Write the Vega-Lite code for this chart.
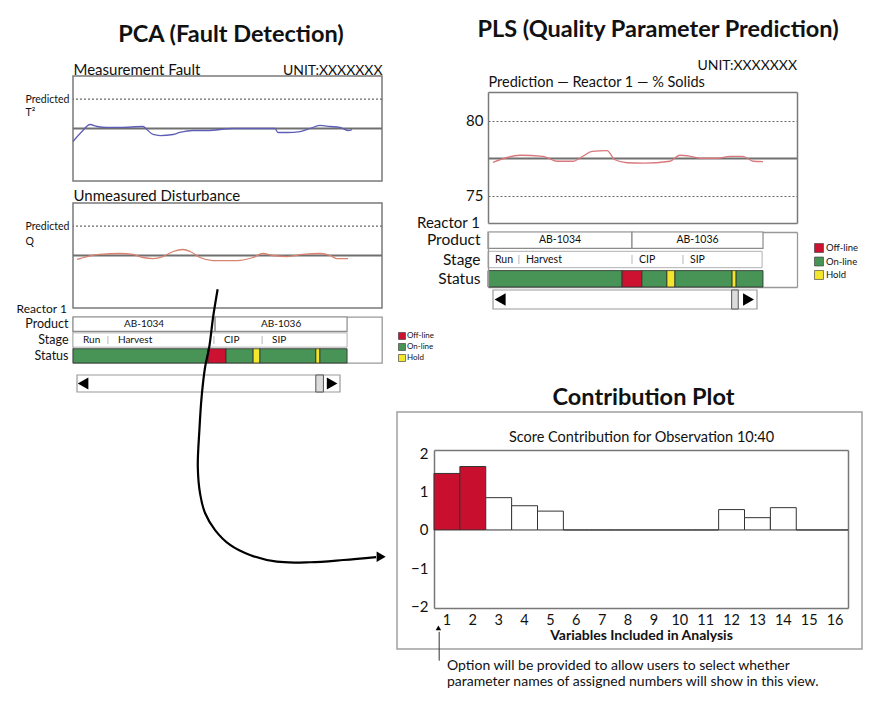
{
  "$schema": "https://vega.github.io/schema/vega-lite/v6.json",
  "background": "white",
  "padding": {"left": 15, "top": 18, "right": 7, "bottom": 10},
  "config": {
    "font": "Lato",
    "view": {"stroke": null},
    "axis": {"labelFont": "Lato", "titleFont": "Lato", "labelColor": "#111111", "titleColor": "#111111", "grid": false, "ticks": false, "domain": false, "labelLimit": 0},
    "title": {"font": "Lato", "color": "#111111", "fontWeight": "normal"},
    "legend": {"labelFont": "Lato", "labelColor": "#111111"},
    "text": {"font": "Lato", "color": "#111111"}
  },
  "spacing": 324,
  "bounds": "flush",
  "hconcat": [
    {
      "spacing": 0,
      "bounds": "flush",
      "resolve": {"scale": {"color": "independent"}, "legend": {"color": "independent"}},
      "vconcat": [
        {"width": 316, "height": 16, "data": {"values": []}, "mark": "point",
         "title": {"text": "PCA (Fault Detection)", "fontSize": 23.5, "fontWeight": "bold", "anchor": "middle", "frame": "group", "baseline": "alphabetic", "offset": -5.5}},

        {"width": 309, "height": 105,
         "view": {"stroke": "#7a7a7a", "strokeWidth": 1.5},
         "layer": [
           {"data": {"values": [{}]}, "mark": {"type": "rule", "color": "#6a6a6a", "strokeWidth": 1.2, "strokeDash": [2, 2]}, "encoding": {"y": {"datum": 7.8, "type": "quantitative"}}},
           {"data": {"values": [{}]}, "mark": {"type": "rule", "color": "#707070", "strokeWidth": 2}, "encoding": {"y": {"datum": 5, "type": "quantitative"}}},
           {"data": {"values": [
              {"t": 0, "v": 3.76}, {"t": 2.9, "v": 4.71}, {"t": 5.5, "v": 5.38}, {"t": 7.8, "v": 5.19}, {"t": 11, "v": 5.1}, {"t": 15.2, "v": 5.1}, {"t": 22.7, "v": 5.19}, {"t": 23.9, "v": 4.9}, {"t": 25.9, "v": 4.43}, {"t": 28.2, "v": 4.33}, {"t": 32.4, "v": 4.43}, {"t": 34.6, "v": 4.62}, {"t": 38.8, "v": 4.81}, {"t": 43.4, "v": 4.81}, {"t": 51.8, "v": 5.0}, {"t": 58.3, "v": 5.0}, {"t": 65.4, "v": 5.0}, {"t": 66.3, "v": 4.62}, {"t": 69.3, "v": 4.62}, {"t": 73.5, "v": 4.71}, {"t": 76.7, "v": 5.0}, {"t": 79.9, "v": 5.29}, {"t": 83.2, "v": 5.19}, {"t": 86.4, "v": 5.1}, {"t": 89, "v": 4.81}, {"t": 90.3, "v": 4.9}
            ]},
            "mark": {"type": "line", "color": "#5e5eb6", "strokeWidth": 1.3, "interpolate": "monotone"},
            "encoding": {
              "x": {"field": "t", "type": "quantitative", "scale": {"domain": [0, 100], "nice": false, "zero": false},
                    "axis": {"orient": "top", "values": [0, 100], "labelExpr": "datum.value == 0 ? 'Measurement Fault' : 'UNIT:XXXXXXX'",
                             "labelAlign": {"condition": {"test": "datum.value == 0", "value": "left"}, "value": "right"},
                             "labelFontSize": {"condition": {"test": "datum.value == 0", "value": 15}, "value": 14},
                             "labelBaseline": "alphabetic", "labelPadding": 2, "labelOverlap": false, "labelFlush": false, "labelBound": false,
                             "title": null, "ticks": false, "domain": false, "grid": false}},
              "y": {"field": "v", "type": "quantitative", "scale": {"domain": [0, 10], "nice": false, "zero": false},
                    "axis": {"values": [7.8, 6.5], "labelExpr": "datum.value > 7 ? 'Predicted' : '\u00a0T²'", "labelAlign": "left", "labelPadding": 48, "labelFontSize": 10.5, "labelBaseline": "middle", "title": null, "ticks": false, "domain": false, "grid": false}}
            }}
         ]},

        {"width": 1, "height": 22, "data": {"values": []}, "mark": "point"},

        {"width": 309, "height": 105,
         "view": {"stroke": "#7a7a7a", "strokeWidth": 1.5},
         "layer": [
           {"data": {"values": [{}]}, "mark": {"type": "rule", "color": "#6a6a6a", "strokeWidth": 1.2, "strokeDash": [2, 2]}, "encoding": {"y": {"datum": 7.8, "type": "quantitative"}}},
           {"data": {"values": [{}]}, "mark": {"type": "rule", "color": "#707070", "strokeWidth": 2}, "encoding": {"y": {"datum": 5, "type": "quantitative"}}},
           {"data": {"values": [
              {"t": 1.3, "v": 4.62}, {"t": 4.5, "v": 4.9}, {"t": 8.7, "v": 5.1}, {"t": 15.2, "v": 5.19}, {"t": 19.4, "v": 5.1}, {"t": 22.7, "v": 4.81}, {"t": 25.9, "v": 4.71}, {"t": 29.1, "v": 4.9}, {"t": 32.4, "v": 5.38}, {"t": 35.6, "v": 5.57}, {"t": 37.9, "v": 5.38}, {"t": 41.1, "v": 4.81}, {"t": 45.3, "v": 4.52}, {"t": 53.1, "v": 4.52}, {"t": 58.3, "v": 4.81}, {"t": 61.5, "v": 5.19}, {"t": 64.7, "v": 5.0}, {"t": 69.3, "v": 4.9}, {"t": 74.4, "v": 5.1}, {"t": 79.9, "v": 5.19}, {"t": 83.2, "v": 5.0}, {"t": 85.4, "v": 4.71}, {"t": 89.0, "v": 4.71}
            ]},
            "mark": {"type": "line", "color": "#d9826f", "strokeWidth": 1.3, "interpolate": "monotone"},
            "encoding": {
              "x": {"field": "t", "type": "quantitative", "scale": {"domain": [0, 100], "nice": false, "zero": false},
                    "axis": {"orient": "top", "values": [0], "labelExpr": "'Unmeasured Disturbance'", "labelAlign": "left", "labelFontSize": 15, "labelBaseline": "alphabetic", "labelPadding": 3, "labelOverlap": false, "labelFlush": false, "labelBound": false, "title": null, "ticks": false, "domain": false, "grid": false}},
              "y": {"field": "v", "type": "quantitative", "scale": {"domain": [0, 10], "nice": false, "zero": false},
                    "axis": {"values": [7.8, 6.3], "labelExpr": "datum.value > 7 ? 'Predicted' : '\u00a0Q'", "labelAlign": "left", "labelPadding": 48, "labelFontSize": 10.5, "labelBaseline": "middle", "title": null, "ticks": false, "domain": false, "grid": false}}
            }}
         ]},

        {"width": 1, "height": 9, "data": {"values": []}, "mark": "point"},

        {"width": 309, "height": 46,
         "view": {"stroke": "#999999", "strokeWidth": 1.3},
         "title": {"text": "Reactor 1", "anchor": "start", "align": "right", "dx": -6, "offset": -8.5, "fontSize": 12, "frame": "group", "baseline": "alphabetic"},
         "data": {"values": [
           {"row": "Product", "start": 0, "end": 46.0, "label": "AB-1034"},
           {"row": "Product", "start": 46.0, "end": 88.7, "label": "AB-1036"},
           {"row": "Stage", "start": 0, "end": 11.3, "label": "Run"},
           {"row": "Stage", "start": 11.3, "end": 45.6, "label": "Harvest"},
           {"row": "Stage", "start": 45.6, "end": 61.2, "label": "CIP"},
           {"row": "Stage", "start": 61.2, "end": 88.7, "label": "SIP"},
           {"row": "Status", "start": 0, "end": 43.7, "label": "On-line"},
           {"row": "Status", "start": 43.7, "end": 49.5, "label": "Off-line"},
           {"row": "Status", "start": 49.5, "end": 58.3, "label": "On-line"},
           {"row": "Status", "start": 58.3, "end": 60.5, "label": "Hold"},
           {"row": "Status", "start": 60.5, "end": 78.6, "label": "On-line"},
           {"row": "Status", "start": 78.6, "end": 79.9, "label": "Hold"},
           {"row": "Status", "start": 79.9, "end": 88.7, "label": "On-line"}
         ]},
         "encoding": {"y": {"field": "row", "type": "nominal", "scale": {"domain": ["Product", "Stage", "Status"], "paddingInner": 0.1, "paddingOuter": 0},
                            "axis": {"title": null, "labelFontSize": 12.5, "labelPadding": 5, "ticks": false, "domain": false}}},
         "layer": [
           {"transform": [{"filter": "datum.row == 'Product'"}],
            "mark": {"type": "rect", "fill": "white", "stroke": "#8c8c8c", "strokeWidth": 1.2},
            "encoding": {"x": {"field": "start", "type": "quantitative", "scale": {"domain": [0, 100], "nice": false, "zero": false}, "axis": null}, "x2": {"field": "end"}}},
           {"transform": [{"filter": "datum.row == 'Product'"}, {"calculate": "(datum.start + datum.end) / 2", "as": "mid"}],
            "mark": {"type": "text", "fontSize": 10},
            "encoding": {"x": {"field": "mid", "type": "quantitative"}, "text": {"field": "label"}}},
           {"transform": [{"filter": "datum.row == 'Stage'"}, {"aggregate": [{"op": "min", "field": "start", "as": "start"}, {"op": "max", "field": "end", "as": "end"}], "groupby": ["row"]}],
            "mark": {"type": "rect", "fill": "white", "stroke": "#b0b0b0", "strokeWidth": 1},
            "encoding": {"x": {"field": "start", "type": "quantitative"}, "x2": {"field": "end"}}},
           {"transform": [{"filter": "datum.row == 'Stage' && datum.start > 0"}],
            "mark": {"type": "tick", "color": "#999999", "thickness": 1, "size": 8},
            "encoding": {"x": {"field": "start", "type": "quantitative"}}},
           {"transform": [{"filter": "datum.row == 'Stage'"}],
            "mark": {"type": "text", "align": "left", "dx": 10, "fontSize": 10},
            "encoding": {"x": {"field": "start", "type": "quantitative"}, "text": {"field": "label"}}},
           {"transform": [{"filter": "datum.row == 'Status'"}],
            "mark": {"type": "rect", "stroke": "#2b2b2b", "strokeWidth": 0.8},
            "encoding": {"x": {"field": "start", "type": "quantitative"}, "x2": {"field": "end"},
                         "color": {"field": "label", "type": "nominal", "scale": {"domain": ["Off-line", "On-line", "Hold"], "range": ["#cc1230", "#489456", "#f4e62c"]},
                                   "legend": {"title": null, "orient": "right", "offset": 1, "padding": 15, "symbolType": "square", "symbolSize": 49, "symbolStrokeColor": "#333333", "symbolStrokeWidth": 0.6, "labelFontSize": 8, "labelOffset": 1, "rowPadding": 1}}}}
         ]},

        {"width": 1, "height": 12, "data": {"values": []}, "mark": "point"},

        {"width": 267, "height": 17,
         "data": {"values": [{"part": "track", "from": 0, "to": 100}, {"part": "thumb", "from": 90.8, "to": 93.7}]},
         "layer": [
           {"transform": [{"filter": "datum.part == 'track'"}],
            "mark": {"type": "rect", "fill": "white", "stroke": "#9a9a9a", "strokeWidth": 1.2},
            "encoding": {"x": {"field": "from", "type": "quantitative", "scale": {"domain": [0, 100], "range": [4, 267], "nice": false, "zero": false}, "axis": null}, "x2": {"field": "to"}}},
           {"transform": [{"filter": "datum.part == 'thumb'"}],
            "mark": {"type": "rect", "fill": "#dcdcdc", "stroke": "#555555", "strokeWidth": 1},
            "encoding": {"x": {"field": "from", "type": "quantitative"}, "x2": {"field": "to"}}},
           {"data": {"values": [{"pos": 2.3, "dir": "left"}, {"pos": 97.0, "dir": "right"}]},
            "mark": {"type": "point", "filled": true, "color": "black", "size": 150, "opacity": 1},
            "encoding": {"x": {"field": "pos", "type": "quantitative"},
                         "shape": {"field": "dir", "type": "nominal", "scale": {"domain": ["left", "right"], "range": ["triangle-left", "triangle-right"]}, "legend": null}}}
         ]},

        {"width": 320, "height": 173,
         "layer": [
           {"data": {"values": [
              {"i": 0, "ax": 45.2, "ay": -59.4}, {"i": 1, "ax": 43.8, "ay": -43.5}, {"i": 2, "ax": 42.6, "ay": -26.2}, {"i": 3, "ax": 41.3, "ay": -14.6}, {"i": 4, "ax": 40.2, "ay": 2.7}, {"i": 5, "ax": 39.5, "ay": 22.0}, {"i": 6, "ax": 39.0, "ay": 43.2}, {"i": 7, "ax": 39.7, "ay": 58.6}, {"i": 8, "ax": 41.3, "ay": 70.1}, {"i": 9, "ax": 44.4, "ay": 79.8}, {"i": 10, "ax": 49.1, "ay": 88.4}, {"i": 11, "ax": 55.3, "ay": 94.2}, {"i": 12, "ax": 63.7, "ay": 98.1}, {"i": 13, "ax": 74.1, "ay": 98.4}, {"i": 14, "ax": 84.5, "ay": 97.1}, {"i": 15, "ax": 94.7, "ay": 95.4}
            ]},
            "mark": {"type": "line", "color": "black", "strokeWidth": 2.2, "interpolate": "catmull-rom"},
            "encoding": {
              "x": {"field": "ax", "type": "quantitative", "scale": {"domain": [0, 100], "nice": false, "zero": false}, "axis": null},
              "y": {"field": "ay", "type": "quantitative", "scale": {"domain": [0, 100], "nice": false, "zero": false, "reverse": true}, "axis": null},
              "order": {"field": "i", "type": "quantitative"}
            }},
           {"data": {"values": [{"ax": 96.3, "ay": 95.2}]},
            "mark": {"type": "point", "shape": "triangle-right", "filled": true, "color": "black", "size": 110, "opacity": 1},
            "encoding": {"x": {"field": "ax", "type": "quantitative"}, "y": {"field": "ay", "type": "quantitative"}}}
         ]}
      ]
    },
    {
      "spacing": 0,
      "bounds": "flush",
      "resolve": {"scale": {"color": "independent"}, "legend": {"color": "independent"}},
      "vconcat": [
        {"width": 522, "height": 32, "data": {"values": []}, "mark": "point",
         "title": {"text": "PLS (Quality Parameter Prediction)", "fontSize": 23.5, "fontWeight": "bold", "anchor": "middle", "frame": "group", "baseline": "alphabetic", "offset": -0.5}},

        {"width": 400, "height": 131,
         "title": {"text": "UNIT:XXXXXXX", "anchor": "end", "frame": "group", "fontSize": 14, "baseline": "alphabetic", "offset": -10},
         "data": {"values": [
            {"t": 1.6, "v": 77.23}, {"t": 10.4, "v": 77.7}, {"t": 17.8, "v": 77.63}, {"t": 22.3, "v": 77.3}, {"t": 27.5, "v": 77.3}, {"t": 30.7, "v": 77.63}, {"t": 33.7, "v": 77.96}, {"t": 38.5, "v": 78.0}, {"t": 41.1, "v": 77.4}, {"t": 45.0, "v": 77.2}, {"t": 50.2, "v": 77.17}, {"t": 58.9, "v": 77.3}, {"t": 62.1, "v": 77.7}, {"t": 65.4, "v": 77.63}, {"t": 68.6, "v": 77.5}, {"t": 74.1, "v": 77.5}, {"t": 78.3, "v": 77.63}, {"t": 82.5, "v": 77.63}, {"t": 85.8, "v": 77.3}, {"t": 89.0, "v": 77.27}
         ]},
         "layer": [
           {"mark": {"type": "line", "color": "#d9787c", "strokeWidth": 1.3, "interpolate": "monotone"},
            "encoding": {
              "x": {"field": "t", "type": "quantitative", "scale": {"domain": [0, 100], "range": [91, 400], "nice": false, "zero": false},
                    "axis": {"orient": "top", "values": [0], "labelExpr": "'Prediction — Reactor 1 — % Solids'", "labelAlign": "left", "labelFontSize": 14.5, "labelBaseline": "alphabetic", "labelPadding": 6, "labelOverlap": false, "labelFlush": false, "labelBound": false, "title": null, "ticks": false, "domain": true, "domainColor": "#7a7a7a", "domainWidth": 1.5, "grid": false}},
              "y": {"field": "v", "type": "quantitative", "scale": {"domain": [73.2, 81.9], "nice": false, "zero": false},
                    "axis": {"orient": "left", "offset": -91, "values": [75, 77.5, 80], "labelExpr": "datum.value == 77.5 ? '' : datum.label", "labelFontSize": 15, "labelPadding": 5, "title": null, "ticks": false, "domain": true, "domainColor": "#7a7a7a", "domainWidth": 1.5,
                             "grid": true,
                             "gridDash": {"condition": {"test": "datum.value == 77.5", "value": []}, "value": [2, 2]},
                             "gridColor": {"condition": {"test": "datum.value == 77.5", "value": "#707070"}, "value": "#6a6a6a"},
                             "gridWidth": {"condition": {"test": "datum.value == 77.5", "value": 2}, "value": 1.2}}}
            }},
           {"mark": {"type": "point", "opacity": 0},
            "encoding": {
              "x": {"field": "t", "type": "quantitative",
                    "axis": {"orient": "bottom", "labels": false, "ticks": false, "domain": true, "domainColor": "#7a7a7a", "domainWidth": 1.5, "grid": false, "title": null}},
              "y": {"field": "v", "type": "quantitative",
                    "axis": {"orient": "right", "labels": false, "ticks": false, "domain": true, "domainColor": "#7a7a7a", "domainWidth": 1.5, "grid": false, "title": null}}
            }}
         ],
         "resolve": {"axis": {"x": "independent", "y": "independent"}}
        },

        {"width": 1, "height": 9, "data": {"values": []}, "mark": "point"},

        {"width": 400, "height": 55,
         "title": {"text": "Reactor 1", "anchor": "start", "align": "right", "dx": 83, "offset": -12, "fontSize": 15, "frame": "group", "baseline": "alphabetic"},
         "data": {"values": [
           {"row": "Product", "start": 0, "end": 46.6, "label": "AB-1034"},
           {"row": "Product", "start": 46.6, "end": 89.0, "label": "AB-1036"},
           {"row": "Stage", "start": 0, "end": 10.0, "label": "Run"},
           {"row": "Stage", "start": 10.0, "end": 46.6, "label": "Harvest"},
           {"row": "Stage", "start": 46.6, "end": 63.1, "label": "CIP"},
           {"row": "Stage", "start": 63.1, "end": 88.7, "label": "SIP"},
           {"row": "Status", "start": 0, "end": 43.4, "label": "On-line"},
           {"row": "Status", "start": 43.4, "end": 49.8, "label": "Off-line"},
           {"row": "Status", "start": 49.8, "end": 57.9, "label": "On-line"},
           {"row": "Status", "start": 57.9, "end": 60.5, "label": "Hold"},
           {"row": "Status", "start": 60.5, "end": 79.0, "label": "On-line"},
           {"row": "Status", "start": 79.0, "end": 80.3, "label": "Hold"},
           {"row": "Status", "start": 80.3, "end": 89.0, "label": "On-line"}
         ]},
         "layer": [
           {"transform": [{"filter": "datum.row == 'Product'"}],
            "mark": {"type": "rect", "fill": "white", "stroke": "#8c8c8c", "strokeWidth": 1.2},
            "encoding": {"x": {"field": "start", "type": "quantitative", "scale": {"domain": [0, 100], "range": [91, 400], "nice": false, "zero": false},
                               "axis": {"orient": "bottom", "labels": false, "ticks": false, "domain": true, "domainColor": "#999999", "domainWidth": 1.3, "grid": false, "title": null}},
                         "x2": {"field": "end"},
                         "y": {"field": "row", "type": "nominal", "scale": {"domain": ["Product", "Stage", "Status"], "paddingInner": 0.15, "paddingOuter": 0},
                               "axis": {"orient": "left", "offset": -91, "title": null, "labelFontSize": 15.5, "labelPadding": 8, "ticks": false, "domain": true, "domainColor": "#999999", "domainWidth": 1.3}}}},
           {"mark": {"type": "point", "opacity": 0},
            "encoding": {"x": {"field": "start", "type": "quantitative",
                               "axis": {"orient": "top", "labels": false, "ticks": false, "domain": true, "domainColor": "#999999", "domainWidth": 1.3, "grid": false, "title": null}},
                         "y": {"field": "row", "type": "nominal",
                               "axis": {"orient": "right", "labels": false, "ticks": false, "domain": true, "domainColor": "#999999", "domainWidth": 1.3, "title": null}}}},
           {"transform": [{"filter": "datum.row == 'Product'"}, {"calculate": "(datum.start + datum.end) / 2", "as": "mid"}],
            "mark": {"type": "text", "fontSize": 10.5},
            "encoding": {"x": {"field": "mid", "type": "quantitative", "axis": null}, "y": {"field": "row", "type": "nominal", "axis": null}, "text": {"field": "label"}}},
           {"transform": [{"filter": "datum.row == 'Stage'"}, {"aggregate": [{"op": "min", "field": "start", "as": "start"}, {"op": "max", "field": "end", "as": "end"}], "groupby": ["row"]}],
            "mark": {"type": "rect", "fill": "white", "stroke": "#b0b0b0", "strokeWidth": 1},
            "encoding": {"x": {"field": "start", "type": "quantitative", "axis": null}, "x2": {"field": "end"}, "y": {"field": "row", "type": "nominal", "axis": null}}},
           {"transform": [{"filter": "datum.row == 'Stage' && datum.start > 0"}],
            "mark": {"type": "tick", "color": "#999999", "thickness": 1, "size": 9},
            "encoding": {"x": {"field": "start", "type": "quantitative", "axis": null}, "y": {"field": "row", "type": "nominal", "axis": null}}},
           {"transform": [{"filter": "datum.row == 'Stage'"}],
            "mark": {"type": "text", "align": "left", "dx": 7, "fontSize": 10.5},
            "encoding": {"x": {"field": "start", "type": "quantitative", "axis": null}, "y": {"field": "row", "type": "nominal", "axis": null}, "text": {"field": "label"}}},
           {"transform": [{"filter": "datum.row == 'Status'"}],
            "mark": {"type": "rect", "stroke": "#2b2b2b", "strokeWidth": 0.8},
            "encoding": {"x": {"field": "start", "type": "quantitative", "axis": null}, "x2": {"field": "end"}, "y": {"field": "row", "type": "nominal", "axis": null},
                         "color": {"field": "label", "type": "nominal", "scale": {"domain": ["Off-line", "On-line", "Hold"], "range": ["#cc1230", "#489456", "#f4e62c"]},
                                   "legend": {"title": null, "orient": "right", "offset": 6, "padding": 11, "symbolType": "square", "symbolSize": 80, "symbolStrokeColor": "#333333", "symbolStrokeWidth": 0.6, "labelFontSize": 9.5, "labelOffset": 2, "rowPadding": 1.5}}}}
         ],
         "resolve": {"axis": {"x": "independent", "y": "independent"}}
        },

        {"width": 1, "height": 3, "data": {"values": []}, "mark": "point"},

        {"width": 400, "height": 19,
         "data": {"values": [{"part": "track", "from": 0, "to": 100}, {"part": "thumb", "from": 90.4, "to": 92.9}]},
         "layer": [
           {"transform": [{"filter": "datum.part == 'track'"}],
            "mark": {"type": "rect", "fill": "white", "stroke": "#9a9a9a", "strokeWidth": 1.2},
            "encoding": {"x": {"field": "from", "type": "quantitative", "scale": {"domain": [0, 100], "range": [96, 360], "nice": false, "zero": false}, "axis": null}, "x2": {"field": "to"}}},
           {"transform": [{"filter": "datum.part == 'thumb'"}],
            "mark": {"type": "rect", "fill": "#dcdcdc", "stroke": "#555555", "strokeWidth": 1},
            "encoding": {"x": {"field": "from", "type": "quantitative"}, "x2": {"field": "to"}}},
           {"data": {"values": [{"pos": 2.7, "dir": "left"}, {"pos": 96.8, "dir": "right"}]},
            "mark": {"type": "point", "filled": true, "color": "black", "size": 160, "opacity": 1},
            "encoding": {"x": {"field": "pos", "type": "quantitative"},
                         "shape": {"field": "dir", "type": "nominal", "scale": {"domain": ["left", "right"], "range": ["triangle-left", "triangle-right"]}, "legend": null}}}
         ]},

        {"width": 1, "height": 103, "data": {"values": []}, "mark": "point"},

        {"width": 465, "height": 237,
         "view": {"stroke": "#a0a0a0", "strokeWidth": 1.5},
         "title": {"text": "Contribution Plot", "fontSize": 23.5, "fontWeight": "bold", "anchor": "middle", "frame": "group", "dx": 14, "baseline": "alphabetic", "offset": -16.5},
         "data": {"values": [
           {"var": 1, "value": 1.47, "grp": "high"}, {"var": 2, "value": 1.65, "grp": "high"}, {"var": 3, "value": 0.84, "grp": "normal"}, {"var": 4, "value": 0.63, "grp": "normal"},
           {"var": 5, "value": 0.49, "grp": "normal"}, {"var": 6, "value": 0, "grp": "normal"}, {"var": 7, "value": 0, "grp": "normal"}, {"var": 8, "value": 0, "grp": "normal"},
           {"var": 9, "value": 0, "grp": "normal"}, {"var": 10, "value": 0, "grp": "normal"}, {"var": 11, "value": 0, "grp": "normal"}, {"var": 12, "value": 0.53, "grp": "normal"},
           {"var": 13, "value": 0.32, "grp": "normal"}, {"var": 14, "value": 0.58, "grp": "normal"}, {"var": 15, "value": 0, "grp": "normal"}, {"var": 16, "value": 0, "grp": "normal"}
         ]},
         "layer": [
           {"mark": {"type": "bar", "stroke": "#333333", "strokeWidth": 1},
            "encoding": {
              "x": {"field": "var", "type": "ordinal", "scale": {"domain": [1, 2, 3, 4, 5, 6, 7, 8, 9, 10, 11, 12, 13, 14, 15, 16], "range": [37, 451], "paddingInner": 0, "paddingOuter": 0},
                    "axis": {"orient": "bottom", "offset": -41, "labelAngle": 0, "labelFontSize": 14.5, "labelPadding": 5, "ticks": false, "domain": true, "domainColor": "#777777", "domainWidth": 1.5,
                             "title": "Variables Included in Analysis", "titleFontSize": 14, "titleFontWeight": "bold", "titlePadding": 2}},
              "y": {"field": "value", "type": "quantitative", "scale": {"domain": [-2.03, 2.08], "range": [196, 38], "nice": false, "zero": false},
                    "axis": {"orient": "left", "offset": -37, "values": [-2, -1, 0, 1, 2], "labelFontSize": 15, "labelPadding": 6, "ticks": false, "domain": true, "domainColor": "#777777", "domainWidth": 1.5, "grid": false, "title": null}},
              "fill": {"field": "grp", "type": "nominal", "scale": {"domain": ["high", "normal"], "range": ["#c8102e", "#ffffff"]}, "legend": null}
            }},
           {"mark": {"type": "point", "opacity": 0},
            "encoding": {
              "x": {"field": "var", "type": "ordinal",
                    "axis": {"orient": "top", "offset": -38, "labels": false, "ticks": false, "domain": true, "domainColor": "#777777", "domainWidth": 1.5,
                             "title": "Score Contribution for Observation 10:40", "titleFontSize": 14.5, "titleFontWeight": "normal", "titlePadding": 6}},
              "y": {"field": "value", "type": "quantitative",
                    "axis": {"orient": "right", "offset": -14, "labels": false, "ticks": false, "domain": true, "domainColor": "#777777", "domainWidth": 1.5, "grid": false, "title": null}}
            }},
           {"data": {"values": [{}]},
            "mark": {"type": "rule", "color": "#333333", "strokeWidth": 1},
            "encoding": {"x": {"datum": 1, "type": "ordinal", "bandPosition": 0.2, "axis": null}, "y": {"datum": -2.65, "type": "quantitative", "axis": null}, "y2": {"datum": -3.4}}},
           {"data": {"values": [{}]},
            "mark": {"type": "point", "shape": "triangle-up", "filled": true, "color": "black", "size": 30, "opacity": 1},
            "encoding": {"x": {"datum": 1, "type": "ordinal", "bandPosition": 0.17, "axis": null}, "y": {"datum": -2.55, "type": "quantitative", "axis": null}}}
         ],
         "resolve": {"axis": {"x": "independent", "y": "independent"}}
        },

        {"width": 465, "height": 0, "data": {"values": []}, "mark": "point",
         "title": {"text": ["Option will be provided to allow users to select whether", "\u00a0\u00a0parameter names of assigned numbers will show in this view."],
                   "orient": "bottom", "anchor": "start", "align": "left", "frame": "group", "dx": 50, "fontSize": 14, "lineHeight": 16, "baseline": "alphabetic", "offset": 1}}
      ]
    }
  ]
}
